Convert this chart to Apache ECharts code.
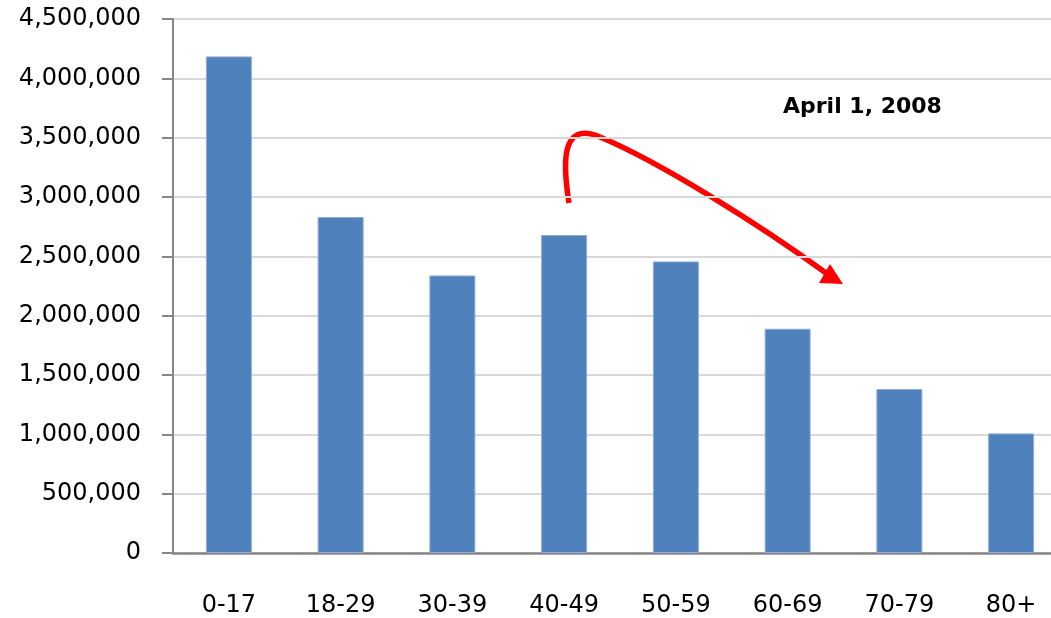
<!DOCTYPE html>
<html>
<head>
<meta charset="utf-8">
<script src="https://cdn.jsdelivr.net/npm/echarts@6/dist/echarts.min.js"></script>
<style>
  html, body { margin: 0; padding: 0; background: #fff; }
  #root { width: 1051px; height: 618px; }
</style>
</head>
<body>
<div id="root"></div>
<script>
// 年龄段
var ageGroups = ['0-17', '18-29', '30-39', '40-49', '50-59', '60-69', '70-79', '80+'];
// 人数 (April 1, 2008)
var population = [4185000, 2831000, 2339000, 2680000, 2457000, 1890000, 1382000, 1008000];
// y轴刻度
var yMin = 0, yMax = 4500000, yStep = 500000;
var noteText = 'April 1, 2008';

var axisGrey = '#868686';
var font = 'DejaVu Sans';
var arrowStyle = { fill: null, stroke: '#ff0000', lineWidth: 5.5 };

function fmt(v) {
    return String(v).replace(/\B(?=(\d{3})+(?!\d))/g, ',');
}

var myChart = echarts.init(document.getElementById('root'));

var option = {
    animation: false,
    // 图表右侧被裁掉一部分，所以宽度超出画布
    grid: { left: 173, top: 19, width: 894, height: 534, outerBoundsMode: 'none', containLabel: false },
    xAxis: {
        type: 'category',
        data: ageGroups,
        axisLine: { lineStyle: { color: axisGrey, width: 2.5 } },
        axisTick: { length: 8, lineStyle: { color: axisGrey, width: 2 } },
        axisLabel: { margin: 41, color: '#000', fontSize: 24, fontFamily: font }
    },
    yAxis: {
        type: 'value',
        min: yMin,
        max: yMax,
        interval: yStep,
        axisLine: { show: true, lineStyle: { color: axisGrey, width: 2 } },
        axisTick: { show: true, length: 11, lineStyle: { color: axisGrey, width: 2 } },
        splitLine: { lineStyle: { color: '#d9d9d9', width: 2 } },
        axisLabel: { margin: 32, color: '#000', fontSize: 24, fontFamily: font, formatter: fmt }
    },
    series: [{
        type: 'bar',
        data: population,
        barWidth: 46,
        itemStyle: { color: '#4f81bd', borderColor: '#8fadd6', borderWidth: 1 }
    }],
    graphic: [
        {
            type: 'text',
            x: 783, y: 107,
            style: {
                text: noteText, fill: '#000', fontSize: 22, fontWeight: 'bold',
                fontFamily: font, verticalAlign: 'middle'
            }
        },
        // 红色弧形箭头
        {
            type: 'bezierCurve',
            shape: { x1: 569, y1: 203, cpx1: 563, cpy1: 165, cpx2: 560, cpy2: 120, x2: 600, y2: 137 },
            style: arrowStyle
        },
        {
            type: 'bezierCurve',
            shape: { x1: 600, y1: 137, cpx1: 660, cpy1: 162, cpx2: 760, cpy2: 225, x2: 826, y2: 273 },
            style: arrowStyle
        },
        {
            type: 'polygon',
            shape: { points: [[843, 284], [819, 283], [830, 264]] },
            style: { fill: '#ff0000' }
        }
    ]
};
myChart.setOption(option);
</script>
</body>
</html>
